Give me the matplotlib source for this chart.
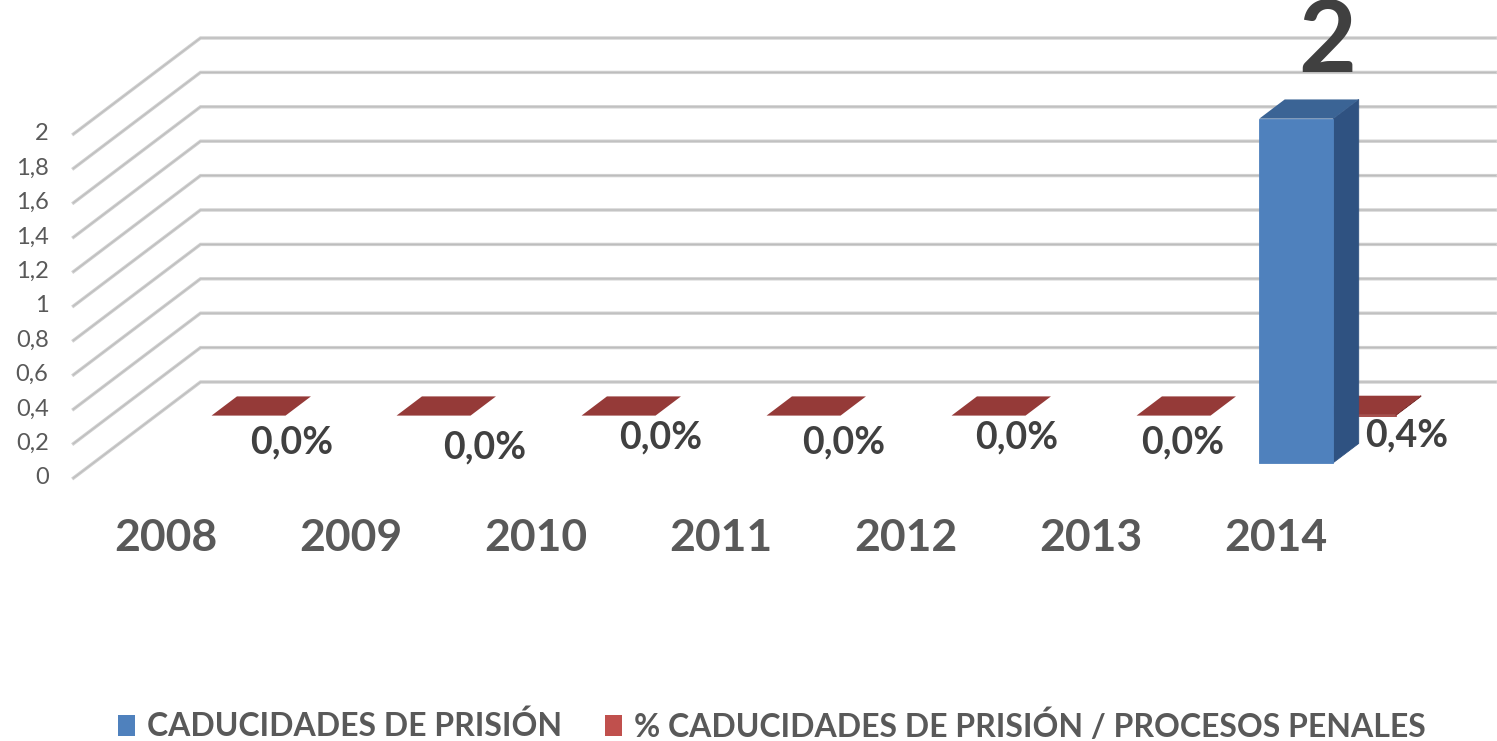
"""Pseudo-3D column chart: caducidades de prisión 2008-2014."""

import matplotlib
matplotlib.use("Agg")
import matplotlib.pyplot as plt
from matplotlib.patches import Polygon, Rectangle

plt.rcParams["font.family"] = ["Lato", "DejaVu Sans"]

# ---------------------------------------------------------------------------
# Data
# ---------------------------------------------------------------------------
YEARS = ["2008", "2009", "2010", "2011", "2012", "2013", "2014"]
CADUCIDADES = [0, 0, 0, 0, 0, 0, 2]
PCT_CADUCIDADES = [0.0, 0.0, 0.0, 0.0, 0.0, 0.0, 0.4]   # percent
Y_TICKS = [0, 0.2, 0.4, 0.6, 0.8, 1.0, 1.2, 1.4, 1.6, 1.8, 2.0]
SERIES_NAMES = ["CADUCIDADES DE PRISIÓN", "% CADUCIDADES DE PRISIÓN / PROCESOS PENALES"]

# ---------------------------------------------------------------------------
# Layout / style (pixel geometry of the fake 3D box)
# ---------------------------------------------------------------------------
W, H = 1497, 741
CAT_PX = 185.0          # px per category
VAL_PX = 172.0          # px per value unit
X0_PX, Y0_PX = 166.0, 478.0   # category 0 centre / value 0 at front
DX, DY = 127.0 / CAT_PX, 96.0 / VAL_PX   # depth vector in data units
BAR_W = 0.4
ROWS = {0: (0.16, 0.36), 1: (0.65, 0.85)}  # depth fraction (front, back)

BLUE = ("#4F81BD", "#2F5281", "#3B6495")   # front, side, top
RED = ("#A0413E", "#7E3230", "#953A38")
LEGEND_COLORS = ["#4F81BD", "#C0504D"]
GRID = "#CFCFCF"
TXT = "#595959"
LBL = "#404040"

# nudges (px) of the percent labels, Excel placed them unevenly
PCT_NUDGE = [(43, -27), (51, -32), (42, -22), (40, -27), (28, -22), (9, -27), (48, -20)]

fig = plt.figure(figsize=(W / 100, H / 100), dpi=100)
ax = fig.add_axes([0, 0, 1, 1])
ax.set_xlim(-X0_PX / CAT_PX, (W - X0_PX) / CAT_PX)
ax.set_ylim((Y0_PX - H) / VAL_PX, Y0_PX / VAL_PX)
ax.axis("off")

n = len(YEARS)
left, right = -0.5, n - 0.5

# walls: side diagonal + back horizontal gridlines
for v in Y_TICKS:
    ax.plot([left, left + DX, right + DX], [v, v + DY, v + DY],
            color=GRID, lw=2.4, solid_joinstyle="miter", zorder=1)
    ax.plot([left, left + DX, right + DX], [v, v + DY, v + DY],
            color="#BDBDBD", lw=0.8, solid_joinstyle="miter", zorder=1)
    ax.text(left - 0.135, v, f"{v:g}".replace(".", ","), ha="right", va="center",
            fontsize=17, color=TXT)


def box(i, val, row, cols, z):
    f0, f1 = ROWS[row]
    xa = i - BAR_W / 2 + f0 * DX
    xb = i + BAR_W / 2 + f0 * DX
    ya = f0 * DY
    ddx, ddy = (f1 - f0) * DX, (f1 - f0) * DY
    front, side, top = cols
    if val > 0:
        ax.add_patch(Polygon([(xb, ya), (xb + ddx, ya + ddy), (xb + ddx, ya + val + ddy),
                              (xb, ya + val)], closed=True, fc=side, ec=side,
                             lw=0.6, zorder=z))
        ax.add_patch(Polygon([(xa, ya), (xb, ya), (xb, ya + val), (xa, ya + val)],
                             closed=True, fc=front, ec=front, lw=0.6, zorder=z))
    ax.add_patch(Polygon([(xa, ya + val), (xb, ya + val), (xb + ddx, ya + val + ddy),
                          (xa + ddx, ya + val + ddy)], closed=True, fc=top,
                         ec="none", zorder=z))
    return xa, xb, ya


# red series (behind), values in percent -> fraction on the same axis
for i, p in enumerate(PCT_CADUCIDADES):
    xa, xb, ya = box(i, p / 100, 1, RED, 2)
    nx, ny = PCT_NUDGE[i]
    ax.text((xa + xb) / 2 + nx / CAT_PX, ya + ny / VAL_PX,
            f"{p:.1f}%".replace(".", ","), ha="center", va="center",
            fontsize=27, fontweight="bold", color=LBL, zorder=5)

# blue series (front)
for i, c in enumerate(CADUCIDADES):
    if c > 0:
        xa, xb, ya = box(i, c, 0, BLUE, 4)
        f0, f1 = ROWS[0]
        ax.text((xa + xb) / 2 + (f1 - f0) * DX / 2 + 18 / CAT_PX,
                c + f1 * DY + 56 / VAL_PX, f"{c}", ha="center", va="center",
                fontsize=72, fontweight="bold", color=LBL, zorder=5)

# category labels
for i, y in enumerate(YEARS):
    ax.text(i, -60 / VAL_PX, y, ha="center", va="center", fontsize=32,
            fontweight="bold", color=TXT)

# legend
lx = [118, 605]
for k, name in enumerate(SERIES_NAMES):
    fig.patches.append(Rectangle((lx[k] / W, 1 - 736 / H), 17 / W, 21 / H,
                                 transform=fig.transFigure, fc=LEGEND_COLORS[k], ec="none"))
    fig.text((lx[k] + 29) / W, 1 - 726 / H, name, ha="left", va="center",
             fontsize=23, fontweight="bold", color=TXT)

fig.savefig("out.png", dpi=100)
